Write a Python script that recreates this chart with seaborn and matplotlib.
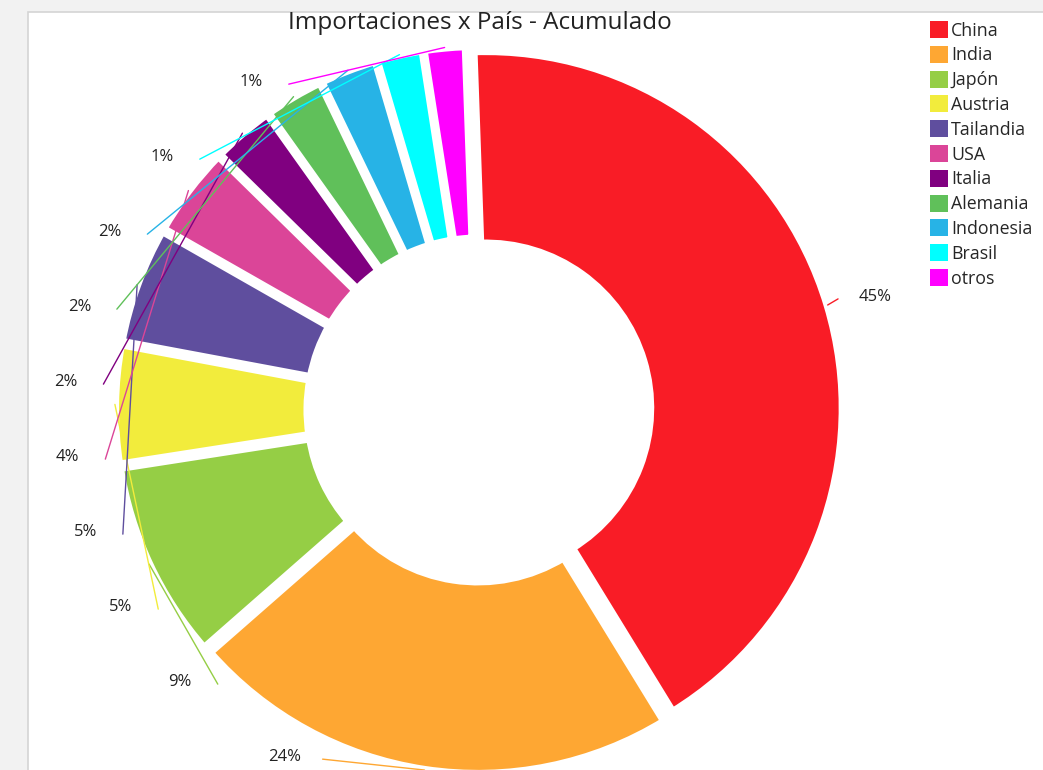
import numpy as np
import matplotlib
matplotlib.use("Agg")
import matplotlib.pyplot as plt
import seaborn as sns
from matplotlib.patches import Rectangle, Patch

# Datos
paises = ['China', 'India', 'Japón', 'Austria', 'Tailandia', 'USA',
          'Italia', 'Alemania', 'Indonesia', 'Brasil', 'otros']
# tamaño de cada porcion
valores = [41.8, 22.3, 9.0, 5.4, 5.3, 4.1, 2.8, 2.7, 2.6, 2.1, 1.9]
# texto que muestra cada etiqueta
etiquetas = ['45%', '24%', '9%', '5%', '5%', '4%', '2%', '2%', '2%', '1%', '1%']
colores = ['#f91c26', '#fea733', '#95ce45', '#f2ec3c', '#5f4e9e', '#db4598',
           '#800080', '#60c05a', '#27b3e6', '#00ffff', '#ff00ff']
titulo = 'Importaciones x País - Acumulado'

sns.set_theme(style='white')
plt.rcParams['font.family'] = ['Open Sans', 'DejaVu Sans']
paleta = sns.color_palette(colores)

W, H = 1043, 770
fig = plt.figure(figsize=(W / 100, H / 100), dpi=100)
fig.patch.set_facecolor('#f2f2f2')
# marco blanco del grafico
fig.add_artist(Rectangle((28 / W, -0.01), 1.0, 1 - 12 / H + 0.01,
                         transform=fig.transFigure, facecolor='white',
                         edgecolor='#d4d4d4', lw=1.2, zorder=0))

# centro del anillo y escala (px)
cx, cy, R = 479, 410, 357
ax = fig.add_axes([29 / W, 0, (W - 29) / W, (H - 13) / H])
ax.set_facecolor('none')

giro = 2  # grados, el anillo empieza un poco antes de las 12
explode = [0.02] * len(valores)
wedges, _ = ax.pie(valores, colors=paleta, startangle=90 + giro, counterclock=False,
                   explode=explode, radius=1,
                   wedgeprops=dict(width=0.54, edgecolor='white', linewidth=6))
ax.set_aspect('auto')
ax.set_xlim((29 - cx) / R, (W - cx) / R)
ax.set_ylim((cy - H) / R, (cy - 13) / R)
ax.axis('off')

# etiquetas: las de la izquierda se apilan con separacion vertical fija
vals = np.array(valores, dtype=float)
fin = np.cumsum(vals) / vals.sum() * 360 - giro
mid = fin - vals / vals.sum() * 180
a, b = 1.16, 1.10
paso, tope = 75 / R, 328 / R
ly = b * np.cos(np.deg2rad(mid))
izq = mid > 180
prev = None
for i in range(len(vals) - 1, -1, -1):
    if not izq[i]:
        continue
    ly[i] = tope if prev is None else prev - paso
    prev = ly[i]
lx = np.where(izq, -1, 1) * a * np.sqrt(np.clip(1 - (ly / b) ** 2, 0, 1))

for i, t in enumerate(etiquetas):
    s = -1 if izq[i] else 1
    am = np.deg2rad(90 - mid[i])
    x1, y1 = (1.0 + explode[i]) * np.cos(am), (1.0 + explode[i]) * np.sin(am)
    ax.plot([lx[i] - s * 0.105, x1], [ly[i] - 0.006, y1], color=paleta[i], lw=1.0, zorder=3)
    ax.text(lx[i], ly[i], t, ha='center', va='center', fontsize=12, color='#222222')

fig.text(480 / W, 1 - 23 / H, titulo, ha='center', va='center',
         fontsize=17.5, color='#222222')

handles = [Patch(facecolor=c, edgecolor='none', label=n) for n, c in zip(paises, paleta)]
fig.legend(handles=handles, loc='upper left', bbox_to_anchor=(930 / W, 1 - 21 / H),
           frameon=False, fontsize=12.8, handlelength=1.0, handleheight=1.1,
           handletextpad=0.2, labelspacing=0.35, borderpad=0, borderaxespad=0)

fig.savefig('out.png', dpi=100, facecolor=fig.get_facecolor())
